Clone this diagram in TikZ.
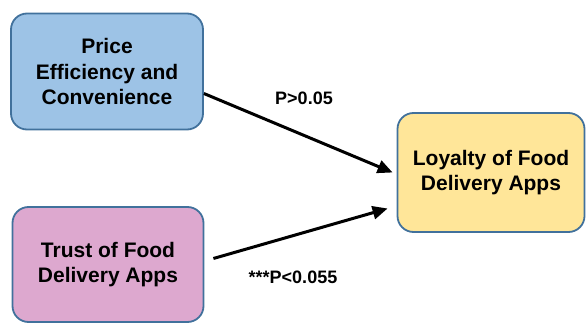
\documentclass[tikz,border=0pt]{standalone}
\usepackage{fontspec}
\setmainfont{Liberation Sans}
\usetikzlibrary{
  arrows.meta,
  calc
}
\definecolor{boxline}{HTML}{41719C}
\definecolor{priceblue}{HTML}{9DC3E6}
\definecolor{trustpink}{HTML}{DDA8CF}
\definecolor{loyalyellow}{HTML}{FFE699}
\tikzset{
  factor box/.style={
    draw=boxline,
    line width=1.8pt,
    rounded corners=16pt,
    align=center,
    font=\fontsize{21}{25.5}\selectfont\bfseries,
    inner sep=0pt
  },
  effect arrow/.style={
    line width=3pt,
    -{Triangle[length=15pt,width=13pt]}
  },
  p value/.style={
    font=\fontsize{18}{21}\selectfont\bfseries
  }
}

\begin{document}
\begin{tikzpicture}[x=1pt,y=-1pt]

    \useasboundingbox (0,0) rectangle (586,324);

    % ---------- 要因 ----------
    \node[factor box, fill=priceblue,
      minimum width=192pt, minimum height=116pt]
      (price) at (107,71.5)
      {Price\\Efficiency and\\Convenience};

    \node[factor box, fill=trustpink,
      minimum width=191pt, minimum height=115pt]
      (trust) at (108,264.5)
      {Trust of Food\\Delivery Apps};

    % ---------- 結果 ----------
    \node[factor box, fill=loyalyellow,
      minimum width=187pt, minimum height=119pt]
      (loyal) at (491,172.5)
      {Loyalty of Food\\Delivery Apps};

    % 矢印
    \draw[effect arrow]
      ([yshift=-22pt]price.east)
      -- ([xshift=-4pt]loyal.west);
    \draw[effect arrow]
      ([xshift=9pt,yshift=6pt]trust.east)
      -- ([xshift=-9pt,yshift=-36pt]loyal.west);

    % p値
    \node[p value] (p1) at (304,98) {P>0.05};
    \node[p value] (p2) at (293,277) {***P<0.055};

  \end{tikzpicture}
\end{document}
